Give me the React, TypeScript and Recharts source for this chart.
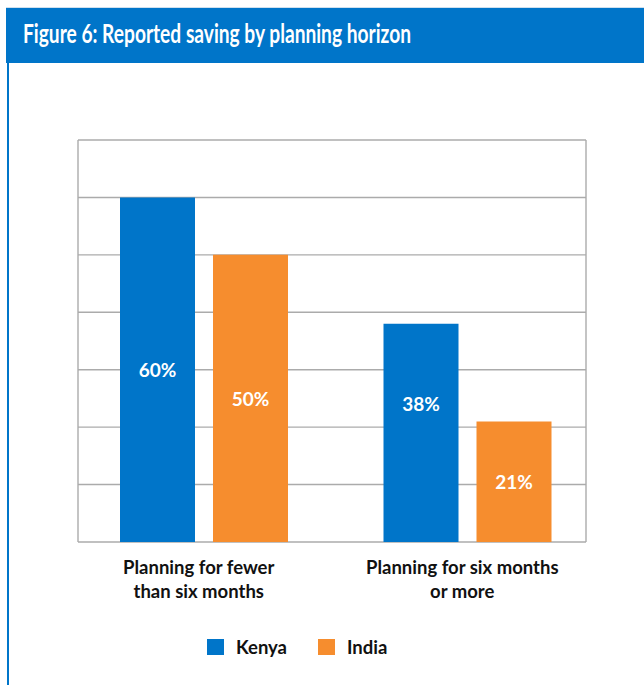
import React from 'react';
import { BarChart, Bar, XAxis, YAxis, CartesianGrid, LabelList } from 'recharts';

const categories = ['Planning for fewer|than six months', 'Planning for six months|or more'];
const kenya = [60, 38];
const india = [50, 21];
const yTicks = [0, 10, 20, 30, 40, 50, 60, 70];
const seriesNames = ['Kenya', 'India'];
const kenyaLabelShift = [0, -29];
const indiaLabelShift = [0, 0];

const BLUE = '#0075c9';
const ORANGE = '#f68d2e';
const FONT = 'Lato, "Open Sans", sans-serif';

const data = categories.map((c, i) => ({ name: c, Kenya: kenya[i], India: india[i] }));

const makeLabel = (shifts: number[]) => (props: any) => {
  const { x, y, width, height, value, index } = props;
  return (
    <text
      x={Number(x) + Number(width) / 2}
      y={Number(y) + Number(height) / 2 + (shifts[index] || 0)}
      fill="#fff"
      fontFamily={FONT}
      fontWeight={700}
      fontSize={19}
      textAnchor="middle"
      dominantBaseline="central"
    >
      {value}%
    </text>
  );
};

const XTick = (props: any) => {
  const { x, y, payload } = props;
  const lines = String(payload.value).split('|');
  return (
    <g>
      {lines.map((l, i) => (
        <text
          key={i}
          x={x - 5}
          y={y + 25 + i * 24}
          textAnchor="middle"
          dominantBaseline="central"
          fontFamily={FONT}
          fontWeight={700}
          fontSize={18.5}
          fill="#111"
        >
          {l}
        </text>
      ))}
    </g>
  );
};

export default function App() {
  const colors = [BLUE, ORANGE];
  return (
    <div style={{ position: 'absolute', left: 0, top: 0, width: 644, height: 685, background: '#fff', overflow: 'hidden' }}>
      <div style={{ position: 'absolute', left: 6, top: 7, width: 638, height: 1, background: '#cfe0ee' }} />
      <div style={{ position: 'absolute', left: 6, top: 8, width: 638, height: 55, background: BLUE }}>
        <svg width={638} height={55} style={{ display: 'block' }}>
          <text
            x={17}
            y={35}
            fill="#fff"
            fontFamily={FONT}
            fontWeight={700}
            fontSize={26}
            textLength={388}
            lengthAdjust="spacingAndGlyphs"
          >
            Figure 6: Reported saving by planning horizon
          </text>
        </svg>
      </div>
      <div style={{ position: 'absolute', left: 7, top: 63, width: 2, height: 622, background: BLUE }} />
      <div style={{ position: 'absolute', left: 0, top: 0 }}>
        <BarChart
          width={644}
          height={685}
          data={data}
          margin={{ top: 140, left: 78, right: 58, bottom: 83 }}
          barSize={75}
          barGap={18}
        >
          <CartesianGrid
            stroke="#ababab"
            strokeWidth={1.4}
            verticalCoordinatesGenerator={({ offset }: any) => [offset.left, offset.left + offset.width]}
          />
          <XAxis
            dataKey="name"
            axisLine={false}
            tickLine={false}
            tickSize={0}
            tickMargin={0}
            height={60}
            interval={0}
            padding={{ left: -6, right: -13 }}
            tick={<XTick />}
          />
          <YAxis hide domain={[0, 70]} ticks={yTicks} />
          <Bar dataKey="Kenya" fill={BLUE} isAnimationActive={false}>
            <LabelList dataKey="Kenya" content={makeLabel(kenyaLabelShift)} />
          </Bar>
          <Bar dataKey="India" fill={ORANGE} isAnimationActive={false}>
            <LabelList dataKey="India" content={makeLabel(indiaLabelShift)} />
          </Bar>
        </BarChart>
      </div>
      <div style={{ position: 'absolute', left: 207, top: 636, display: 'flex', alignItems: 'center', fontFamily: FONT, fontWeight: 700, fontSize: 18.5, color: '#111' }}>
        {seriesNames.map((n, i) => (
          <div key={n} style={{ display: 'flex', alignItems: 'center', marginRight: i === 0 ? 31 : 0 }}>
            <div style={{ width: 17, height: 16, background: colors[i], marginRight: 12 }} />
            <span style={{ lineHeight: '22px' }}>{n}</span>
          </div>
        ))}
      </div>
    </div>
  );
}
